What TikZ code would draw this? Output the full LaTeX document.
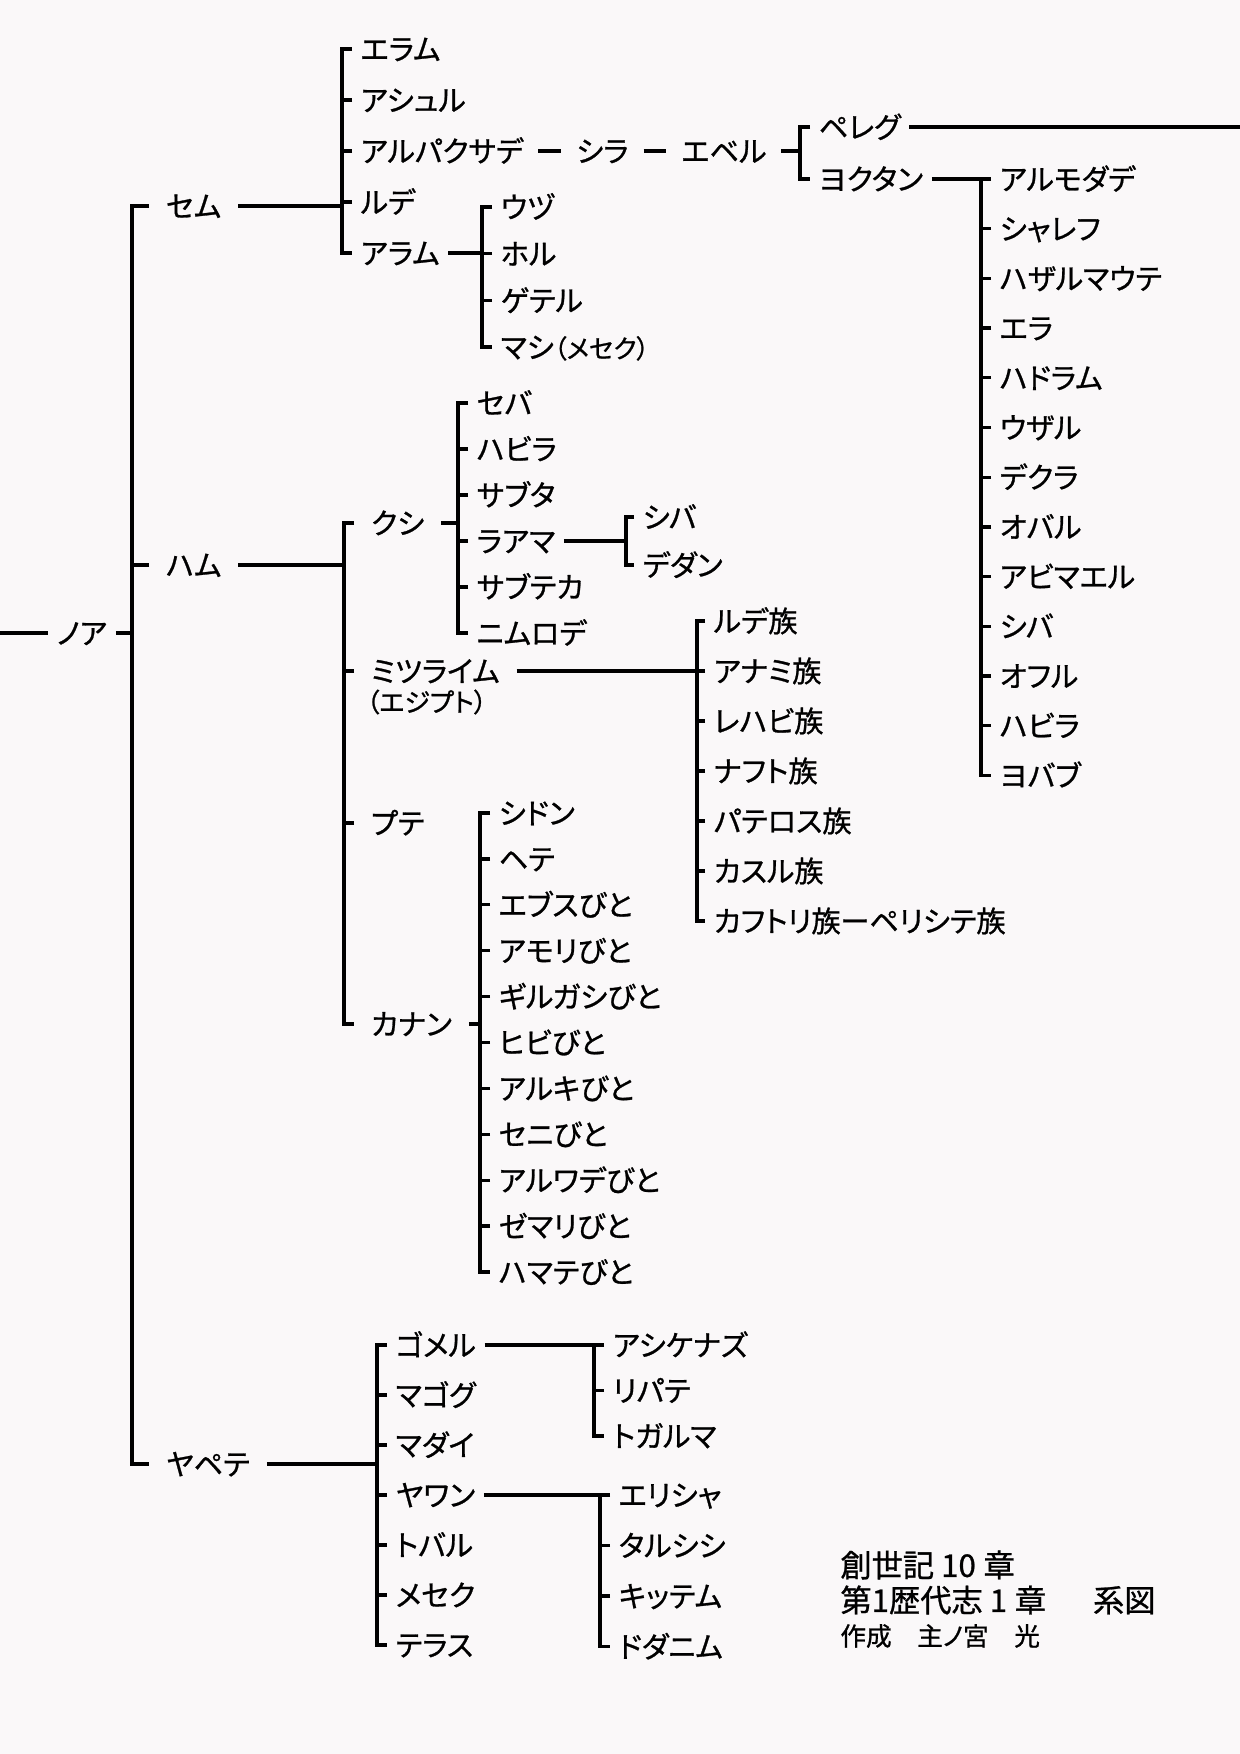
\documentclass[tikz,border=0pt]{standalone}
\usepackage{fontspec}
\setmainfont{Noto Sans CJK JP}[RawFeature=+palt,FakeBold=0.9]
\usepackage{tikz}
\usetikzlibrary{calc,positioning}
\definecolor{paper}{HTML}{FAF8F9}

\begin{document}
\begin{tikzpicture}[x=0.48pt,y=-0.48pt,
  line/.style={line width=1.6pt,black},
  kin/.style={anchor=west,inner xsep=4pt,inner ysep=0pt,text height=12.3pt,text depth=1.7pt,
    font=\fontsize{14}{16}\selectfont},
  son/.style={kin,inner xsep=8pt},
  note/.style={anchor=west,inner sep=0pt,font=\fontsize{12.5}{14}\selectfont},
  title/.style={anchor=west,inner sep=0pt,font=\fontsize{15}{17}\selectfont}]
  \fill[paper] (0,0) rectangle (1240,1754);
  \useasboundingbox (0,0) rectangle (1240,1754);

  % Noah and his three sons
  \coordinate (edgeL) at (0,633);
  \coordinate (noahB) at (132,633);
  \node[kin,anchor=center] (noah) at (82,633) {ノア};
  \node[son] (shem) at (149,206) {セム};
  \node[son] (ham) at (149,565) {ハム};
  \node[son] (japheth) at (149,1464) {ヤペテ};
  \draw[line] (edgeL) -- (noah);
  \draw[line] (noah) -- (noahB);
  \draw[line] (shem.west) -- ++(-17,0) |- (japheth.west);
  \draw[line] (ham.west) -- ++(-17,0);

  % Shem
  \foreach \n/\t [count=\i from 0] in {elam/エラム,asshur/アシュル,arpachshad/アルパクサデ,lud/ルデ,aram/アラム}
    \node[kin] (\n) at (352,49+51*\i) {\t};
  \draw[line] (elam.west) -- ++(-10,0) |- (aram.west);
  \foreach \n in {asshur,arpachshad,lud} \draw[line] (\n.west) -- ++(-10,0);
  \draw[line] (shem) -- ($(shem -| elam.west)+(-10,0)$);

  \node[kin,right=17pt of arpachshad] (shelah) {シラ};
  \node[kin,right=17pt of shelah] (eber) {エベル};
  \draw[line,shorten <=3pt,shorten >=3pt] (arpachshad) -- (shelah);
  \draw[line,shorten <=3pt,shorten >=3pt] (shelah) -- (eber);

  \node[kin] (peleg) at (810,127) {ペレグ};
  \node[kin] (joktan) at (810,179) {ヨクタン};
  \coordinate (edgeR) at (1240,127);
  \draw[line] (peleg.west) -- ++(-10,0) |- (joktan.west);
  \draw[line,shorten <=3pt] (eber) -- ($(eber -| peleg.west)+(-10,0)$);
  \draw[line] (peleg) -- (edgeR);

  \foreach \n/\t [count=\i from 0] in {almodad/アルモダデ,sheleph/シャレフ,hazarmaveth/ハザルマウテ,jerah/エラ,
      hadoram/ハドラム,uzal/ウザル,diklah/デクラ,obal/オバル,abimael/アビマエル,jsheba/シバ,ophir/オフル,
      jhavilah/ハビラ,jobab/ヨバブ}
    \node[kin] (\n) at (991,179+49.7*\i) {\t};
  \draw[line] (almodad.west) -- ++(-10,0) |- (jobab.west);
  \foreach \n in {sheleph,hazarmaveth,jerah,hadoram,uzal,diklah,obal,abimael,jsheba,ophir,jhavilah}
    \draw[line] (\n.west) -- ++(-10,0);
  \draw[line] (joktan) -- ($(joktan -| almodad.west)+(-10,0)$);

  \foreach \n/\t [count=\i from 0] in {uz/ウヅ,hul/ホル,gether/ゲテル,mash/{マシ{\fontsize{12.3}{14}\selectfont（メセク）}}}
    \node[kin] (\n) at (492,207+46.7*\i) {\t};
  \draw[line] (uz.west) -- ++(-10,0) |- (mash.west);
  \foreach \n in {hul,gether} \draw[line] (\n.west) -- ++(-10,0);
  \draw[line] (aram) -- ($(aram -| uz.west)+(-10,0)$);

  % Ham
  \node[son] (cush) at (354,523) {クシ};
  \node[son] (mizraim) at (354,671) {ミツライム};
  \node[note] (egypt) at (366,702) {（エジプト）};
  \node[son] (put) at (354,823) {プテ};
  \node[son] (canaan) at (354,1024) {カナン};
  \draw[line] (cush.west) -- ++(-10,0) |- (canaan.west);
  \foreach \n in {mizraim,put} \draw[line] (\n.west) -- ++(-10,0);
  \draw[line] (ham) -- ($(ham -| cush.west)+(-10,0)$);

  \foreach \n/\t [count=\i from 0] in {cseba/セバ,chavilah/ハビラ,sabtah/サブタ,raamah/ラアマ,sabtecha/サブテカ,nimrod/ニムロデ}
    \node[kin] (\n) at (468,403+46*\i) {\t};
  \draw[line] (cseba.west) -- ++(-10,0) |- (nimrod.west);
  \foreach \n in {chavilah,sabtah,raamah,sabtecha} \draw[line] (\n.west) -- ++(-10,0);
  \draw[line] (cush) -- ($(cush -| cseba.west)+(-10,0)$);

  \node[kin] (rsheba) at (634,517) {シバ};
  \node[kin] (dedan) at (634,565) {デダン};
  \draw[line] (rsheba.west) -- ++(-8,0) |- (dedan.west);
  \draw[line] (raamah) -- ($(raamah -| rsheba.west)+(-8,0)$);

  \foreach \n/\t [count=\i from 0] in {ludim/ルデ族,anamim/アナミ族,lehabim/レハビ族,naphtuhim/ナフト族,
      pathrusim/パテロス族,casluhim/カスル族,caphtorim/カフトリ族ーペリシテ族}
    \node[kin] (\n) at (705,621+50*\i) {\t};
  \draw[line] (ludim.west) -- ++(-8,0) |- (caphtorim.west);
  \foreach \n in {anamim,lehabim,naphtuhim,pathrusim,casluhim} \draw[line] (\n.west) -- ++(-8,0);
  \draw[line] (mizraim) -- ($(mizraim -| ludim.west)+(-8,0)$);

  \foreach \n/\t [count=\i from 0] in {sidon/シドン,heth/ヘテ,jebusite/エブスびと,amorite/アモリびと,
      girgasite/ギルガシびと,hivite/ヒビびと,arkite/アルキびと,sinite/セニびと,arvadite/アルワデびと,
      zemarite/ゼマリびと,hamathite/ハマテびと}
    \node[kin] (\n) at (490,813+45.9*\i) {\t};
  \draw[line] (sidon.west) -- ++(-10,0) |- (hamathite.west);
  \foreach \n in {heth,jebusite,amorite,girgasite,hivite,arkite,sinite,arvadite,zemarite}
    \draw[line] (\n.west) -- ++(-10,0);
  \draw[line] (canaan) -- ($(canaan -| sidon.west)+(-10,0)$);

  % Japheth
  \foreach \n/\t [count=\i from 0] in {gomer/ゴメル,magog/マゴグ,madai/マダイ,javan/ヤワン,tubal/トバル,meshech/メセク,tiras/テラス}
    \node[kin] (\n) at (387,1345+50*\i) {\t};
  \draw[line] (gomer.west) -- ++(-10,0) |- (tiras.west);
  \foreach \n in {magog,madai,javan,tubal,meshech} \draw[line] (\n.west) -- ++(-10,0);
  \draw[line] (japheth) -- ($(japheth -| gomer.west)+(-10,0)$);

  \foreach \n/\t [count=\i from 0] in {ashkenaz/アシケナズ,riphath/リパテ,togarmah/トガルマ}
    \node[kin] (\n) at (604,1345+45.5*\i) {\t};
  \draw[line] (ashkenaz.west) -- ++(-10,0) |- (togarmah.west);
  \draw[line] (riphath.west) -- ++(-10,0);
  \draw[line] (gomer) -- ($(gomer -| ashkenaz.west)+(-10,0)$);

  \foreach \n/\t [count=\i from 0] in {elishah/エリシャ,tarshish/タルシシ,kittim/キッテム,dodanim/ドダニム}
    \node[kin] (\n) at (610,1495+50.5*\i) {\t};
  \draw[line] (elishah.west) -- ++(-10,0) |- (dodanim.west);
  \foreach \n in {tarshish,kittim} \draw[line] (\n.west) -- ++(-10,0);
  \draw[line] (javan) -- ($(javan -| elishah.west)+(-10,0)$);

  % title
  \node[title] (genesis) at (840,1565) {創世記 10\hspace{0.25em}章};
  \node[title] (chron) at (840,1600) {第1歴代志 1\hspace{0.25em}章\hspace{1.5em}系図};
  \node[note,font=\fontsize{12.3}{14}\selectfont] (author) at (840,1636) {作成　主ノ宮　光};
\end{tikzpicture}
\end{document}
